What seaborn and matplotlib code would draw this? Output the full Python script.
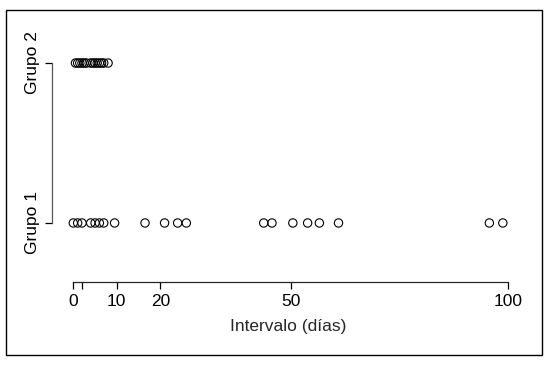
import matplotlib
matplotlib.use("Agg")
import matplotlib.pyplot as plt
from matplotlib.patches import Rectangle
import seaborn as sns
import pandas as pd

# Data
grupo1 = [0, 1, 2, 4, 5, 6, 7, 9.5, 16.5, 21, 24, 26, 43.8, 45.7, 50.5, 53.9, 56.6, 61, 95.7, 98.8]
grupo2 = [0.5, 1, 1.5, 2, 2.5, 3, 4, 4.5, 5, 5.5, 6, 6.5, 7, 8]
groups = ["Grupo 2", "Grupo 1"]
xticks = [0, 2, 10, 20, 50, 100]
xticklabels = ["0", "", "10", "20", "50", "100"]
xlabel = "Intervalo (días)"

df = pd.DataFrame({
    "valor": grupo1 + grupo2,
    "grupo": ["Grupo 1"] * len(grupo1) + ["Grupo 2"] * len(grupo2),
})

sns.set_theme(style="ticks")
plt.rcParams["font.family"] = ["Liberation Sans", "DejaVu Sans"]

W, H = 553, 365
fig = plt.figure(figsize=(W / 100, H / 100), dpi=100)
left, right, top, bottom = 52, 525, 20, 282
ax = fig.add_axes([left / W, (H - bottom) / H, (right - left) / W, (bottom - top) / H])

sns.stripplot(data=df, x="valor", y="grupo", order=groups, orient="h",
              jitter=False, size=6, ax=ax, color="black")
for coll in ax.collections:
    coll.set_facecolor("none")
    coll.set_edgecolor("black")
    coll.set_linewidth(0.8)

ax.set_xlim(-4.9, 103.9)
ax.set_ylim(1.369, -0.269)

ax.set_xticks(xticks)
ax.set_xticklabels(xticklabels)
ax.set_yticks([0, 1])
ax.set_yticklabels(groups, rotation=90, va="center")

for s in ["top", "right"]:
    ax.spines[s].set_visible(False)
ax.spines["bottom"].set_bounds(0, 100)
ax.spines["left"].set_bounds(0, 1)
ax.spines["left"].set_color("#555555")
for s in ["bottom", "left"]:
    ax.spines[s].set_linewidth(0.9)

ax.tick_params(axis="both", direction="out", length=5, width=0.9, labelsize=12.5, colors="black")
ax.tick_params(axis="y", pad=4)
ax.set_xlabel(xlabel, fontsize=12.5, labelpad=7)
ax.set_ylabel("")
ax.grid(False)

fig.patches.append(Rectangle((6 / W, (H - 355) / H), (542 - 6) / W, (355 - 10) / H,
                             transform=fig.transFigure, fill=False, edgecolor="black",
                             linewidth=1.0))

fig.savefig("out.png", dpi=100)
